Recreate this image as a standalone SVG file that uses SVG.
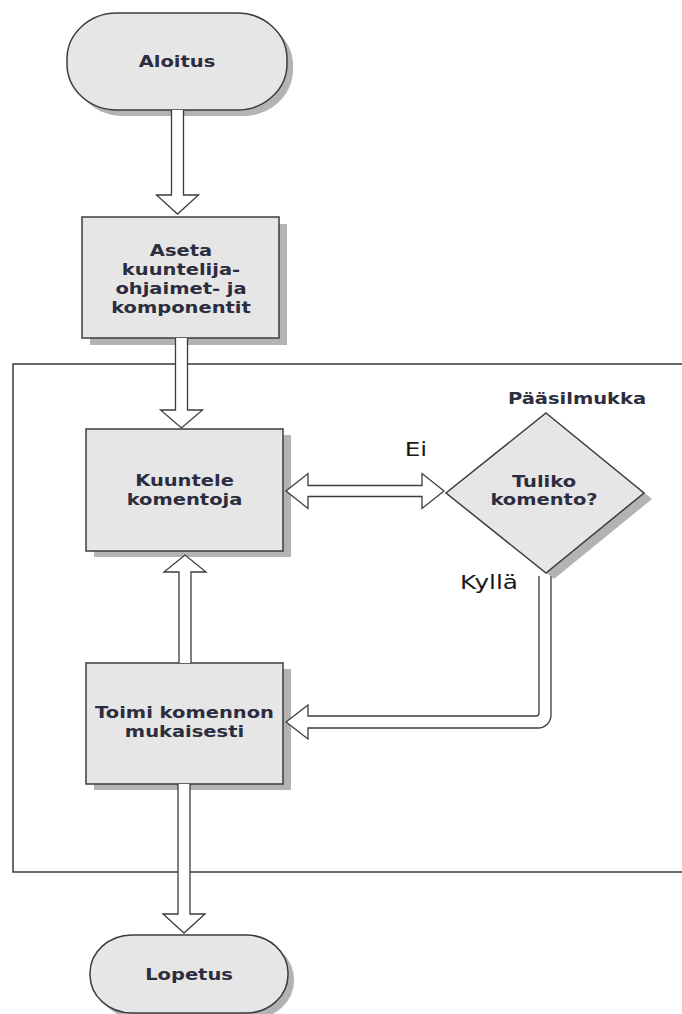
<svg xmlns="http://www.w3.org/2000/svg" width="682" height="1014" viewBox="0 0 682 1014">
<defs>
<style>
.shadow{fill:#b3b3b3;stroke:none}
.shape{fill:#e6e6e6;stroke:#3c3c3c;stroke-width:1.5}
.arrow{fill:#ffffff;stroke:#3c3c3c;stroke-width:1.3;stroke-linejoin:miter}
.frame{fill:none;stroke:#3a3a3a;stroke-width:1.5}
.lbl{font-family:"DejaVu Sans",Verdana,sans-serif;font-weight:bold;font-size:15px;fill:#2d2d40;text-anchor:middle}
.edge{font-family:"DejaVu Sans",Verdana,sans-serif;font-size:19px;fill:#1a1a1a;text-anchor:middle}
</style>
</defs>
<rect width="682" height="1014" fill="#ffffff"/>
<g id="paasilmukka">
<path class="frame" d="M690,364 H13 V872 H690"/>
<text class="lbl" transform="matrix(1.3 0 0 1 577 0)" x="0" y="404">Pääsilmukka</text>
</g>
<g id="aloitus">
<rect class="shadow" x="73" y="19" width="220" height="97" rx="50" ry="46"/>
<rect class="shape" x="67" y="13" width="220" height="97" rx="50" ry="46"/>
<text class="lbl" transform="matrix(1.3 0 0 1 177 0)" x="0" y="67">Aloitus</text>
</g>
<g id="aseta">
<rect class="shadow" x="90" y="224" width="197" height="121"/>
<rect class="shape" x="82" y="217" width="197" height="121"/>
<text class="lbl" transform="matrix(1.3 0 0 1 181 0)"><tspan x="0" y="256">Aseta</tspan><tspan x="0" y="275">kuuntelija-</tspan><tspan x="0" y="294">ohjaimet- ja</tspan><tspan x="0" y="313">komponentit</tspan></text>
</g>
<g id="kuuntele">
<rect class="shadow" x="94" y="435" width="197" height="122"/>
<rect class="shape" x="86" y="429" width="197" height="122"/>
<text class="lbl" transform="matrix(1.3 0 0 1 184.5 0)"><tspan x="0" y="486">Kuuntele</tspan><tspan x="0" y="505">komentoja</tspan></text>
</g>
<g id="tuliko">
<polygon class="shadow" points="554,419 652,499 554,579 454,499"/>
<polygon class="shape" points="546,413 644,493 546,573 446,493"/>
<text class="lbl" transform="matrix(1.3 0 0 1 544 0)"><tspan x="0" y="487">Tuliko</tspan><tspan x="0" y="505">komento?</tspan></text>
</g>
<g id="toimi">
<rect class="shadow" x="94" y="669" width="197" height="121"/>
<rect class="shape" x="86" y="663" width="197" height="121"/>
<text class="lbl" transform="matrix(1.3 0 0 1 184.5 0)"><tspan x="0" y="718">Toimi komennon</tspan><tspan x="0" y="737">mukaisesti</tspan></text>
</g>
<g id="lopetus">
<rect class="shadow" x="96" y="941" width="198" height="78" rx="42" ry="38"/>
<rect class="shape" x="90" y="935" width="198" height="78" rx="42" ry="38"/>
<text class="lbl" transform="matrix(1.3 0 0 1 189 0)" x="0" y="980">Lopetus</text>
</g>
<g id="connectors">
<path class="arrow" d="M171.5,110 V195 H156.5 L177.5,214 L198.5,195 H183.5 V110"/>
<path class="arrow" d="M175.5,338 V410 H160.5 L181.5,428 L202.5,410 H187.5 V338"/>
<path class="arrow" d="M286,491 L308,473.5 V485.5 H422 V473.5 L444,491 L422,508.5 V496.5 H308 V508.5 Z"/>
<path class="arrow" d="M539,576 V713 Q539,716 536,716 H308 V705 L286,722 L308,739 V728 H538 A13,13 0 0 0 551,715 V576"/>
<path class="arrow" d="M179,663 V572 H164 L185,555 L206,572 H191 V663"/>
<path class="arrow" d="M178,784 V914 H163 L184,933 L205,914 H190 V784"/>
<text class="edge" transform="matrix(1.3 0 0 1 416 0)" x="0" y="456">Ei</text>
<text class="edge" transform="matrix(1.3 0 0 1 489 0)" x="0" y="589">Kyllä</text>
</g>
</svg>
